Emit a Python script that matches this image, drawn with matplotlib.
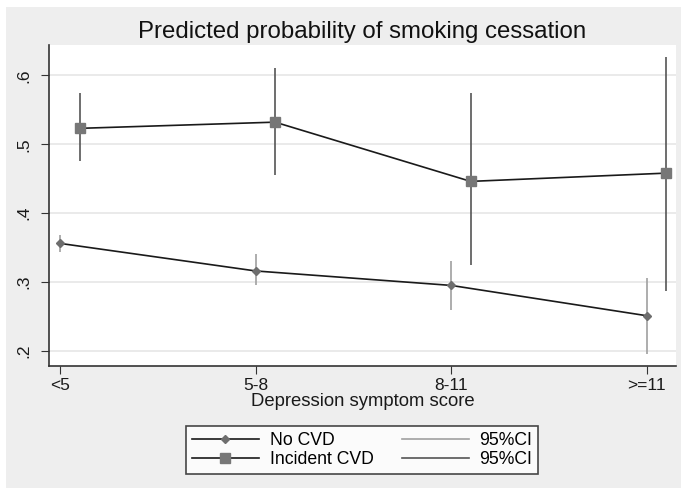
import numpy as np
import matplotlib.pyplot as plt
from matplotlib.patches import Rectangle
from matplotlib.lines import Line2D

plt.rcParams['font.family'] = ['Liberation Sans', 'DejaVu Sans']

categories = ['<5', '5-8', '8-11', '>=11']
no_cvd = [0.356, 0.316, 0.295, 0.251]
no_cvd_lo = [0.344, 0.296, 0.260, 0.196]
no_cvd_hi = [0.368, 0.341, 0.330, 0.306]
inc_cvd = [0.523, 0.532, 0.446, 0.458]
inc_cvd_lo = [0.476, 0.456, 0.324, 0.287]
inc_cvd_hi = [0.574, 0.610, 0.574, 0.627]
yticks = [0.2, 0.3, 0.4, 0.5, 0.6]
ytick_labels = ['.2', '.3', '.4', '.5', '.6']

x = np.arange(len(categories))
x_inc = x + 0.1

fig = plt.figure(figsize=(6.81, 4.88), dpi=100)
fig.patch.set_facecolor('white')
# grey graph region (Stata style), small white margin top/left
fig.patches.append(Rectangle((6 / 681, 0), 1, 1 - 7 / 488, transform=fig.transFigure,
                             facecolor='#eeeeee', edgecolor='none', zorder=-1))

ax = fig.add_axes([49 / 681, 122 / 488, 627 / 681, 321 / 488])
ax.set_facecolor('white')

# confidence intervals
ax.vlines(x, no_cvd_lo, no_cvd_hi, color='#a0a0a0', lw=1.2, zorder=2)
ax.vlines(x_inc, inc_cvd_lo, inc_cvd_hi, color='#555555', lw=1.2, zorder=2)

# point estimates
ax.plot(x, no_cvd, color='#1a1a1a', lw=1.2, marker='D', ms=4.5,
        mfc='#6e6e6e', mec='#6e6e6e', zorder=3)
ax.plot(x_inc, inc_cvd, color='#1a1a1a', lw=1.2, marker='s', ms=6.8,
        mfc='#777777', mec='#777777', zorder=3)

ax.set_xlim(-0.056, 3.15)
ax.set_ylim(0.178, 0.644)
ax.set_yticks(yticks)
ax.set_yticklabels(ytick_labels, rotation=90, va='center')
ax.set_xticks(x)
ax.set_xticklabels(categories)
ax.tick_params(axis='both', labelsize=12.5, length=6, color='#333333', labelcolor='#1a1a1a')
ax.tick_params(axis='x', pad=3)
ax.tick_params(axis='y', pad=7)
ax.grid(axis='y', color='#e6e6e6', lw=1.2)
ax.set_axisbelow(True)
for s in ['top', 'right']:
    ax.spines[s].set_visible(False)
for s in ['left', 'bottom']:
    ax.spines[s].set_color('#333333')
    ax.spines[s].set_linewidth(1.2)

ax.set_xlabel('Depression symptom score', fontsize=13.3, labelpad=0, color='#1a1a1a')
ax.set_title('Predicted probability of smoking cessation', fontsize=17.3, pad=5, color='#111111')

handles = [
    Line2D([], [], color='#1a1a1a', lw=1.2, marker='D', ms=4.5, mfc='#6e6e6e', mec='#6e6e6e'),
    Line2D([], [], color='#1a1a1a', lw=1.2, marker='s', ms=6.8, mfc='#777777', mec='#777777'),
    Line2D([], [], color='#a0a0a0', lw=1.2),
    Line2D([], [], color='#555555', lw=1.2),
]
labels = ['No CVD', 'Incident CVD', '95%CI', '95%CI']
leg = fig.legend(handles, labels, ncol=2, loc='center', bbox_to_anchor=(362 / 681, 38 / 488),
                 fontsize=12.7, frameon=True, fancybox=False, edgecolor='#1a1a1a',
                 handlelength=3.8, columnspacing=1.6, labelspacing=0.15, borderpad=0.35,
                 handletextpad=0.6)
leg.get_frame().set_linewidth(1.2)

fig.savefig('out.png', dpi=100)
